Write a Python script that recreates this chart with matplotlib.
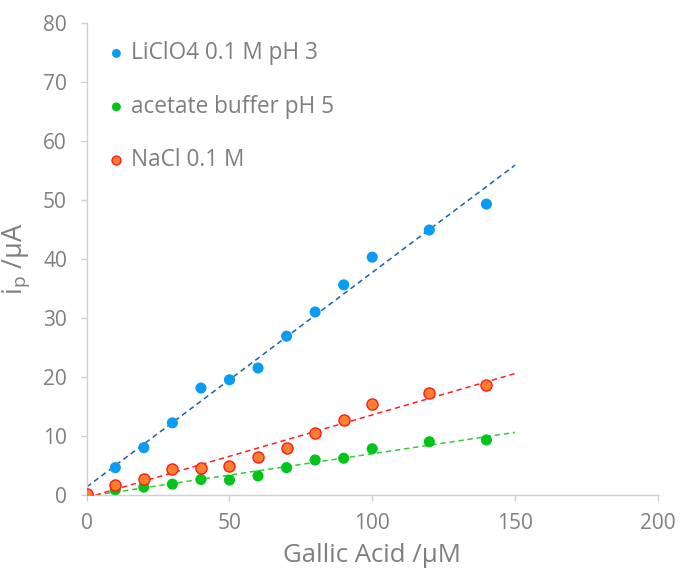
import numpy as np
import matplotlib.pyplot as plt

plt.rcParams['font.family'] = ['Open Sans', 'DejaVu Sans']

# Gallic acid concentration (µM) and peak current (µA) in each electrolyte
conc = [0, 10, 20, 30, 40, 50, 60, 70, 80, 90, 100, 120, 140]
i_liclo4 = [0.0, 4.6, 8.0, 12.2, 18.1, 19.5, 21.5, 26.9, 31.0, 35.6, 40.3, 44.9, 49.3]
i_acetate = [0.0, 0.85, 1.3, 1.8, 2.6, 2.5, 3.2, 4.6, 5.9, 6.2, 7.8, 9.0, 9.3]
i_nacl = [0.2, 1.7, 2.7, 4.4, 4.6, 4.9, 6.4, 8.0, 10.4, 12.6, 15.4, 17.3, 18.7]

labels = ['LiClO4 0.1 M pH 3', 'acetate buffer pH 5', 'NaCl 0.1 M']

grey = '#7f7f7f'

fig = plt.figure(figsize=(6.83, 5.76), dpi=100)
ax = fig.add_axes([0.127, 0.141, 0.836, 0.819])

series = [
    (i_liclo4, '#0a9bf5', 'none', '#1f5fa8'),
    (i_acetate, '#00c41a', 'none', '#33cc33'),
    (i_nacl, '#ff7f2a', '#ff1a1a', '#ff2020'),
]

xfit = np.array([0, 150])
for (y, fc, ec, lc), lab in zip(series, labels):
    # linear trendline extended to 150 µM
    k, b = np.polyfit(conc, y, 1)
    ax.plot(xfit, k * xfit + b, ls=(0, (3.5, 2.5)), color=lc, lw=1.1, zorder=2)

for (y, fc, ec, lc), lab in zip(series, labels):
    ax.scatter(conc, y, s=64, color=fc, edgecolors=ec, linewidths=1.0,
               label=lab, zorder=3)

ax.set_xlim(0, 200)
ax.set_ylim(0, 80)
ax.set_xticks([0, 50, 100, 150, 200])
ax.set_yticks(range(0, 81, 10))

for side in ['top', 'right']:
    ax.spines[side].set_visible(False)
for side in ['left', 'bottom']:
    ax.spines[side].set_color('#d0d0d0')
    ax.spines[side].set_linewidth(1.0)
ax.tick_params(colors='#d0d0d0', labelcolor=grey, labelsize=15, length=4.3, width=1.0)
ax.tick_params(axis='x', pad=9)
ax.tick_params(axis='y', pad=10)

ax.set_xlabel('Gallic Acid /µM', fontsize=18.5, color=grey, labelpad=6)
ax.set_ylabel('i$_\\mathregular{p}$ /µA', fontsize=19.5, color=grey, labelpad=8)

leg = ax.legend(loc='upper left', bbox_to_anchor=(0.0, 1.0), frameon=False,
                fontsize=16.3, labelspacing=1.3, handletextpad=0.15,
                handlelength=1.0, borderaxespad=0.41, markerscale=0.8)
for t in leg.get_texts():
    t.set_color(grey)

fig.savefig('out.png', dpi=100)
